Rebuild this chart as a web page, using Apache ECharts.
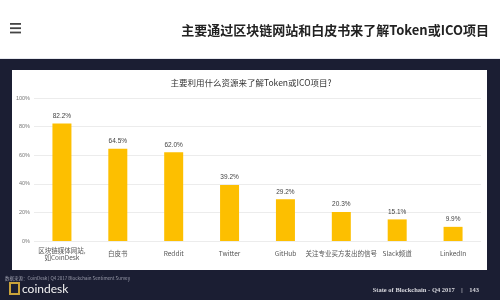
<!DOCTYPE html>
<html><head><meta charset="utf-8">
<script src="https://cdn.jsdelivr.net/npm/echarts@6/dist/echarts.min.js"></script>
<style>html,body{margin:0;padding:0;background:#fff}#c{width:500px;height:300px}</style>
</head><body><div id="c"></div>
<script>
const pageTitle = '主要通过区块链网站和白皮书来了解Token或ICO项目';
const chartTitle = '主要利用什么资源来了解Token或ICO项目?';
const categories = ['区块链媒体网站,\n如CoinDesk', '白皮书', 'Reddit', 'Twitter', 'GitHub', '关注专业买方发出的信号', 'Slack频道', 'LinkedIn'];
const values = [82.2, 64.5, 62.0, 39.2, 29.2, 20.3, 15.1, 9.9];
const yTicks = [0, 20, 40, 60, 80, 100];
const sourceText = '数据来源：CoinDesk | Q4 2017 Blockchain Sentiment Survey';
const footerText = 'State of Blockchain - Q4 2017    |    143';

const chart = echarts.init(document.getElementById('c'), null, {renderer: 'canvas'});
const cjk = '"Noto Sans CJK SC", "Noto Sans", sans-serif';
chart.setOption({
  animation: false,
  backgroundColor: '#ffffff',
  graphic: [
    {type: 'rect', z: -10, shape: {x: 0, y: 59, width: 500, height: 241}, style: {fill: '#1b1e33'}},
    {type: 'line', z: -9, shape: {x1: 0, y1: 58.5, x2: 500, y2: 58.5}, style: {stroke: '#e6e8ee', lineWidth: 1}},
    {type: 'rect', z: -8, shape: {x: 12, y: 70, width: 475, height: 200}, style: {fill: '#ffffff'}},
    {type: 'rect', shape: {x: 10, y: 23, width: 11, height: 1.8}, style: {fill: '#444'}},
    {type: 'rect', shape: {x: 10, y: 27.3, width: 11, height: 1.8}, style: {fill: '#444'}},
    {type: 'rect', shape: {x: 10, y: 31.6, width: 11, height: 1.8}, style: {fill: '#444'}},
    {type: 'text', style: {text: pageTitle, x: 489, y: 30, align: 'right', verticalAlign: 'middle', fontSize: 13, fontWeight: 'bold', fontFamily: cjk, fill: '#222'}},
    {type: 'text', style: {text: chartTitle, x: 251, y: 83, align: 'center', verticalAlign: 'middle', fontSize: 8.5, fontFamily: cjk, fill: '#333'}},
    {type: 'text', style: {text: sourceText, x: 5, y: 278, align: 'left', verticalAlign: 'middle', fontSize: 4.5, fontFamily: cjk, fill: '#9a9cab'}},
    {type: 'rect', shape: {x: 10, y: 283, width: 9, height: 11}, style: {fill: 'none', stroke: '#c9a23a', lineWidth: 2}},
    {type: 'text', style: {text: 'coindesk', x: 22, y: 289, align: 'left', verticalAlign: 'middle', fontSize: 12, fontFamily: 'Lato, sans-serif', fill: '#f2f2f2'}},
    {type: 'text', style: {text: footerText, x: 479, y: 290, align: 'right', verticalAlign: 'middle', fontSize: 6.5, fontWeight: 'bold', fontFamily: '"Liberation Serif", "DejaVu Serif", serif', fill: '#d8d8de'}}
  ],
  grid: {left: 34, right: 19, top: 98, bottom: 59},
  xAxis: {
    type: 'category', data: categories,
    axisLine: {show: false}, axisTick: {show: false},
    axisLabel: {interval: 0, fontSize: 6.5, color: '#555', fontFamily: cjk, margin: 13, verticalAlign: 'middle', lineHeight: 7.5}
  },
  yAxis: {
    type: 'value', min: 0, max: 100, interval: 20,
    axisLine: {show: false}, axisTick: {show: false},
    axisLabel: {fontSize: 5.5, color: '#777', margin: 4, formatter: v => yTicks.includes(v) ? v + '%' : ''},
    splitLine: {lineStyle: {color: '#ececec', width: 1}}
  },
  series: [{
    type: 'bar', data: values, barWidth: 19,
    itemStyle: {color: '#fdbf00'},
    label: {show: true, position: 'top', distance: 4, fontSize: 6.5, color: '#444', formatter: p => p.value.toFixed(1) + '%'}
  }]
});
</script></body></html>
